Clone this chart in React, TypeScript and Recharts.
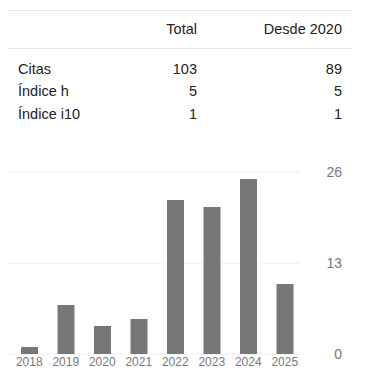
import * as React from "react";
import { BarChart, Bar, XAxis, YAxis, CartesianGrid } from "recharts";

const years = ["2018", "2019", "2020", "2021", "2022", "2023", "2024", "2025"];
const citations = [1, 7, 4, 5, 22, 21, 25, 10];
const yTicks = [0, 13, 26];

const headers = ["Total", "Desde 2020"];
const rowLabels = ["Citas", "Índice h", "Índice i10"];
const totalValues = ["103", "5", "1"];
const sinceValues = ["89", "5", "1"];

const font = "Arial, 'Liberation Sans', sans-serif";
const rowCenters = [61, 83, 106];

const YearTick = ({ x, y, payload }: any) => (
  <text x={x} y={y} dy={12} textAnchor="middle" fontSize={12} fill="#777" fontFamily={font}>
    {payload.value}
  </text>
);

const CountTick = ({ y, payload }: any) => (
  <text x={334} y={y} dy={5} textAnchor="end" fontSize={14} fill="#777" fontFamily={font}>
    {payload.value}
  </text>
);

const GridLine = (props: any) => (
  <line
    key={`g-${props.y1}`}
    x1={0}
    x2={292}
    y1={props.y1}
    y2={props.y2}
    stroke="#eeeeee"
    strokeWidth={1}
  />
);

const cell = (text: string, left: number, top: number, align: "left" | "right") => (
  <div
    key={`${text}-${left}-${top}`}
    style={{
      position: "absolute",
      top: top - 10,
      height: 20,
      lineHeight: "20px",
      ...(align === "left" ? { left } : { right: 343 - left }),
      whiteSpace: "nowrap",
    }}
  >
    {text}
  </div>
);

export default function App() {
  const data = years.map((year, i) => ({ year, value: citations[i] }));

  return (
    <div style={{ position: "relative", width: 343, height: 359, fontFamily: font, fontSize: 14.5, color: "#222" }}>
      <div style={{ position: "absolute", top: 2, left: 0, width: 343, borderTop: "1px solid #e6e6e6" }} />
      {cell(headers[0], 189, 21, "right")}
      {cell(headers[1], 334, 21, "right")}
      <div style={{ position: "absolute", top: 40, left: 0, width: 343, borderTop: "1px solid #e6e6e6" }} />
      {rowLabels.map((label, i) => cell(label, 10, rowCenters[i], "left"))}
      {totalValues.map((v, i) => cell(v, 189, rowCenters[i], "right"))}
      {sinceValues.map((v, i) => cell(v, 334, rowCenters[i], "right"))}
      <div style={{ position: "absolute", top: 150, left: 0 }}>
        <BarChart width={343} height={220} data={data} margin={{ top: 14, right: 0, bottom: 4, left: 0 }}>
          <CartesianGrid vertical={false} horizontal={GridLine} />
          <XAxis
            dataKey="year"
            axisLine={false}
            tickLine={false}
            tickSize={0}
            tickMargin={0}
            height={20}
            padding={{ left: 3, right: 0 }}
            tick={YearTick}
            interval={0}
          />
          <YAxis
            orientation="right"
            width={48}
            domain={[0, 26]}
            ticks={yTicks}
            axisLine={false}
            tickLine={false}
            tick={CountTick}
          />
          <Bar dataKey="value" fill="#777777" barSize={17} isAnimationActive={false} />
        </BarChart>
      </div>
    </div>
  );
}
